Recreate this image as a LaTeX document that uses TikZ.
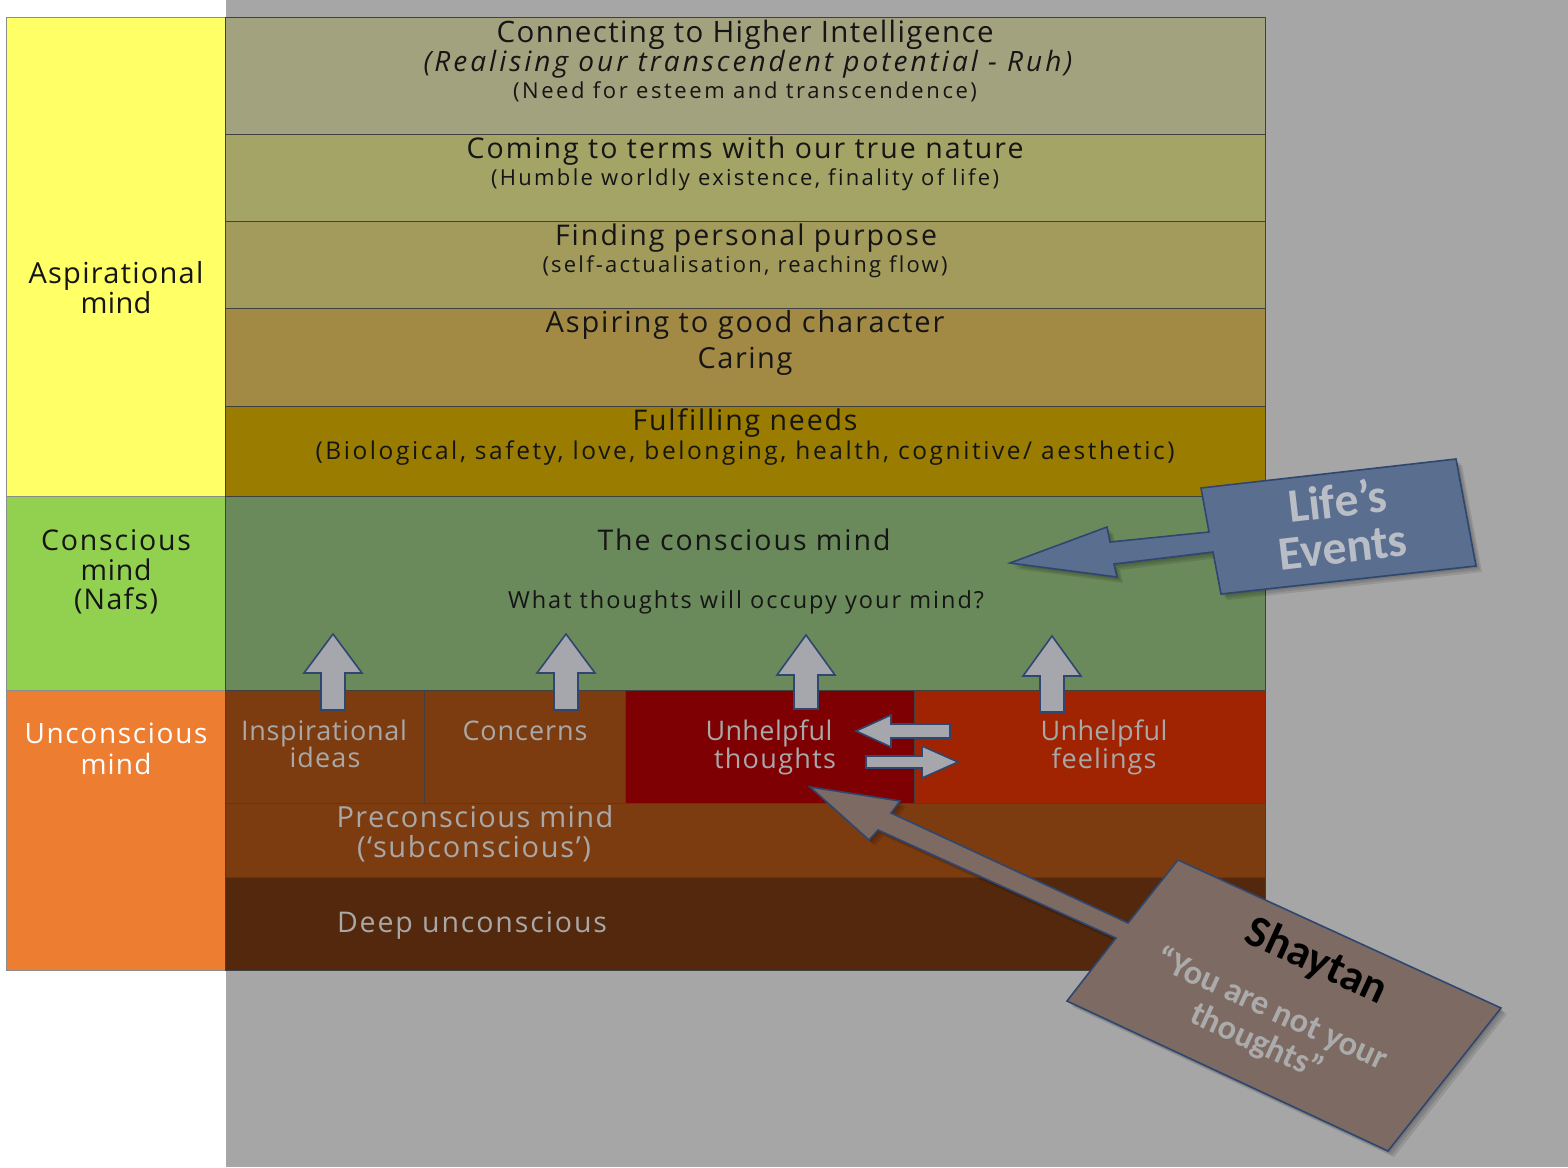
\documentclass[tikz,border=0pt]{standalone}
\usepackage{fontspec}
\setmainfont{Open Sans}[Ligatures=CommonOff]
\newfontfamily\carlito{Carlito}
\newsavebox\fitbox
\newcommand\fitls[3]{%
 \sbox\fitbox{\fontsize{#1}{#1}\selectfont #3}\edef\wA{\the\wd\fitbox}%
 \sbox\fitbox{\fontsize{#1}{#1}\selectfont\addfontfeature{LetterSpace=10}#3}\edef\wB{\the\wd\fitbox}%
 \pgfmathsetmacro\fitL{10*(#2-\wA)/(\wB-\wA)}%
 \fontsize{#1}{#1}\selectfont\addfontfeature{LetterSpace=\fitL}#3}
\newcommand\fitsize[3]{\sbox\fitbox{\fontsize{10}{12}\selectfont #2}\pgfmathsetmacro\fitfs{10*#1/\the\wd\fitbox}\fontsize{\fitfs pt}{#3}\selectfont}
\definecolor{bggray}{HTML}{A6A6A6}
\definecolor{rA}{HTML}{A3A27F}
\definecolor{rB}{HTML}{A3A466}
\definecolor{rC}{HTML}{A39B5B}
\definecolor{rD}{HTML}{A28A45}
\definecolor{rE}{HTML}{9A7D00}
\definecolor{consc}{HTML}{6B8A5B}
\definecolor{brn}{HTML}{7D3C10}
\definecolor{uthought}{HTML}{7F0003}
\definecolor{ufeel}{HTML}{A02302}
\definecolor{deep}{HTML}{53280C}
\definecolor{aspY}{HTML}{FFFF66}
\definecolor{consG}{HTML}{92D050}
\definecolor{uncO}{HTML}{ED7D31}
\definecolor{txtblack}{HTML}{151515}
\definecolor{txtgray}{HTML}{A8A8A8}
\definecolor{arrfill}{HTML}{A5A7AC}
\definecolor{arrline}{HTML}{2E4670}
\definecolor{lifefill}{HTML}{5A6E8F}
\definecolor{lifetext}{HTML}{B9BDC5}
\definecolor{shayfill}{HTML}{7D6A62}
\definecolor{quotetext}{HTML}{ABABAB}
\begin{document}
\begin{tikzpicture}[x=1pt,y=-1pt,
  leftline/.style={draw=black!45, line width=0.8pt},
  rowline/.style={draw=black!75, line width=0.8pt},
  tx/.style={anchor=base, inner sep=0pt, text=txtblack},
  gtx/.style={tx, text=txtgray},
  wtx/.style={tx, text=white},
  blockarrow/.style={fill=arrfill, draw=arrline, line width=1.6pt, line join=miter},
  callout/.style={draw=arrline, line width=1.6pt, line join=miter},
  shade/.style={fill=black, opacity=0.1}
]
\useasboundingbox (0,0) rectangle (1568,1167);
\fill[white] (0,0) rectangle (1568,1167);
\fill[bggray] (226,0) rectangle (1568,1167);

% left column
\draw[leftline, fill=aspY] (6,17) rectangle (225,496);
\draw[leftline, fill=consG] (6,496) rectangle (225,690);
\draw[leftline, fill=uncO] (6,690) rectangle (225,970);

% layers
\draw[rowline, fill=rA] (225,17) rectangle (1265,134);
\draw[rowline, fill=rB] (225,134) rectangle (1265,221);
\draw[rowline, fill=rC] (225,221) rectangle (1265,308);
\draw[rowline, fill=rD] (225,308) rectangle (1265,406);
\draw[rowline, fill=rE] (225,406) rectangle (1265,496);
\draw[rowline, fill=consc] (225,496) rectangle (1265,690);
\draw[rowline, fill=brn] (225,690) rectangle (424,803);
\draw[rowline, fill=brn] (424,690) rectangle (625,803);
\draw[rowline, fill=uthought] (625,690) rectangle (914,803);
\draw[rowline, fill=ufeel] (914,690) rectangle (1265,803);
\draw[rowline, fill=brn] (225,803) rectangle (1265,877);
\draw[rowline, fill=deep] (225,877) rectangle (1265,970);

% left labels
\node[tx] (asp1) at (116,283) {\fitls{29}{175}{Aspirational}};
\node[tx] (asp2) at (116,313) {\fitls{29}{71}{mind}};
\node[tx] (con1) at (116,550) {\fitls{28.5}{150}{Conscious}};
\node[tx] (con2) at (116,580) {\fitls{28.5}{71}{mind}};
\node[tx] (con3) at (116,609) {\fitls{28.5}{84}{(Nafs)}};
\node[wtx] (unc1) at (116,743) {\fitls{28}{183}{Unconscious}};
\node[wtx] (unc2) at (116,774) {\fitls{28}{71}{mind}};

% layer texts
\node[tx] (l1a) at (745,42) {\fitls{29.5}{497}{Connecting to Higher Intelligence}};
\node[tx] (l1b) at (748,71) {\itshape\fitls{28}{649}{(Realising our transcendent potential - Ruh)}};
\node[tx] (l1c) at (745,98) {\fitls{22}{464}{(Need for esteem and transcendence)}};
\node[tx] (l2a) at (745,158) {\fitls{28.5}{557}{Coming to terms with our true nature}};
\node[tx] (l2b) at (745,185) {\fitls{22}{508}{(Humble worldly existence, finality of life)}};
\node[tx] (l3a) at (746,245) {\fitls{28.5}{382}{Finding personal purpose}};
\node[tx] (l3b) at (745,272) {\fitls{22}{405}{(self-actualisation, reaching flow)}};
\node[tx] (l4a) at (745,332) {\fitls{29}{399}{Aspiring to good character}};
\node[tx] (l4b) at (745,368) {\fitls{29}{95}{Caring}};
\node[tx] (l5a) at (745,430) {\fitls{28.5}{225}{Fulfilling needs}};
\node[tx] (l5b) at (745,459) {\fitls{24.5}{859}{(Biological, safety, love, belonging, health, cognitive/ aesthetic)}};
\node[tx] (c1) at (744,550) {\fitls{28.5}{293}{The conscious mind}};
\node[tx] (c2) at (746,608) {\fitls{23.5}{476}{What thoughts will occupy your mind?}};

% unconscious texts
\node[gtx] (ins1) at (324,740) {\fitls{27}{166}{Inspirational}};
\node[gtx] (ins2) at (325,767) {\fitls{27}{71}{ideas}};
\node[gtx] (conc) at (525,740) {\fitls{27}{125}{Concerns}};
\node[gtx] (ut1) at (769,740) {\fitls{27}{127}{Unhelpful}};
\node[gtx] (ut2) at (775,768) {\fitls{27}{122}{thoughts}};
\node[gtx] (uf1) at (1104,740) {\fitls{27}{127}{Unhelpful}};
\node[gtx] (uf2) at (1104,768) {\fitls{27}{105}{feelings}};
\node[gtx] (pre1) at (475,827) {\fitls{29}{277}{Preconscious mind}};
\node[gtx] (pre2) at (474,857) {\fitls{29}{234}{(‘subconscious’)}};
\node[gtx] (deepu) at (472,932) {\fitls{28.5}{270}{Deep unconscious}};

% up arrows
\foreach \cx/\tip/\base/\bot in {333/634/673/710, 566/634/673/710, 806/635/675/709, 1052/636/676/712}{
  \draw[blockarrow] (\cx,\tip) -- (\cx+29,\base) -- (\cx+12,\base) -- (\cx+12,\bot)
     -- (\cx-12,\bot) -- (\cx-12,\base) -- (\cx-29,\base) -- cycle;
}
% horizontal arrows between thoughts and feelings
\draw[blockarrow] (856,731) -- (891,715) -- (891,724) -- (950,724) -- (950,738) -- (891,738) -- (891,747) -- cycle;
\draw[blockarrow] (958,762) -- (922,746) -- (922,756) -- (866,756) -- (866,768) -- (922,768) -- (922,778) -- cycle;

% Life's events callout
\foreach \o in {2,4,6}{
 \fill[shade] ([shift={(\o,\o)}]1201,488) -- ([shift={(\o,\o)}]1456,459) -- ([shift={(\o,\o)}]1476,566) -- ([shift={(\o,\o)}]1221,594) -- ([shift={(\o,\o)}]1213,552) -- ([shift={(\o,\o)}]1114,564) -- ([shift={(\o,\o)}]1117,577) -- ([shift={(\o,\o)}]1010,563) -- ([shift={(\o,\o)}]1107,527) -- ([shift={(\o,\o)}]1110,542) -- ([shift={(\o,\o)}]1209,532) -- cycle;
}
\draw[callout, fill=lifefill] (1201,488) -- (1456,459) -- (1476,566) -- (1221,594) -- (1213,552) -- (1114,564) -- (1117,577) -- (1010,563) -- (1107,527) -- (1110,542) -- (1209,532) -- cycle;
\node[rotate=6.5, align=center, inner sep=0pt, text=lifetext, font={\carlito\bfseries\fitsize{129}{Events}{46pt}}] (life) at (1340,523) {Life’s\\Events};

% Shaytan callout
\foreach \o in {2,4,6}{
 \fill[shade] ([shift={(\o,\o)}]1178,860) -- ([shift={(\o,\o)}]1501,1008) -- ([shift={(\o,\o)}]1388,1151) -- ([shift={(\o,\o)}]1067,1001) -- ([shift={(\o,\o)}]1116,938) -- ([shift={(\o,\o)}]878,830) -- ([shift={(\o,\o)}]869,840) -- ([shift={(\o,\o)}]810,787) -- ([shift={(\o,\o)}]900,801) -- ([shift={(\o,\o)}]891,813) -- ([shift={(\o,\o)}]1128,923) -- cycle;
}
\draw[callout, fill=shayfill] (1178,860) -- (1501,1008) -- (1388,1151) -- (1067,1001) -- (1116,938) -- (878,830) -- (869,840) -- (810,787) -- (900,801) -- (891,813) -- (1128,923) -- cycle;
\node[rotate=-24.6, inner sep=0pt, text=black, font={\carlito\bfseries\fitsize{150}{Shaytan}{40pt}}] (shay) at (1316,962) {Shaytan};
\node[rotate=-24.6, align=center, inner sep=0pt, text=quotetext, font={\carlito\bfseries\fitsize{250}{“You are not your}{36pt}}] (quote) at (1264,1026) {“You are not your\\thoughts”};
\end{tikzpicture}
\end{document}
